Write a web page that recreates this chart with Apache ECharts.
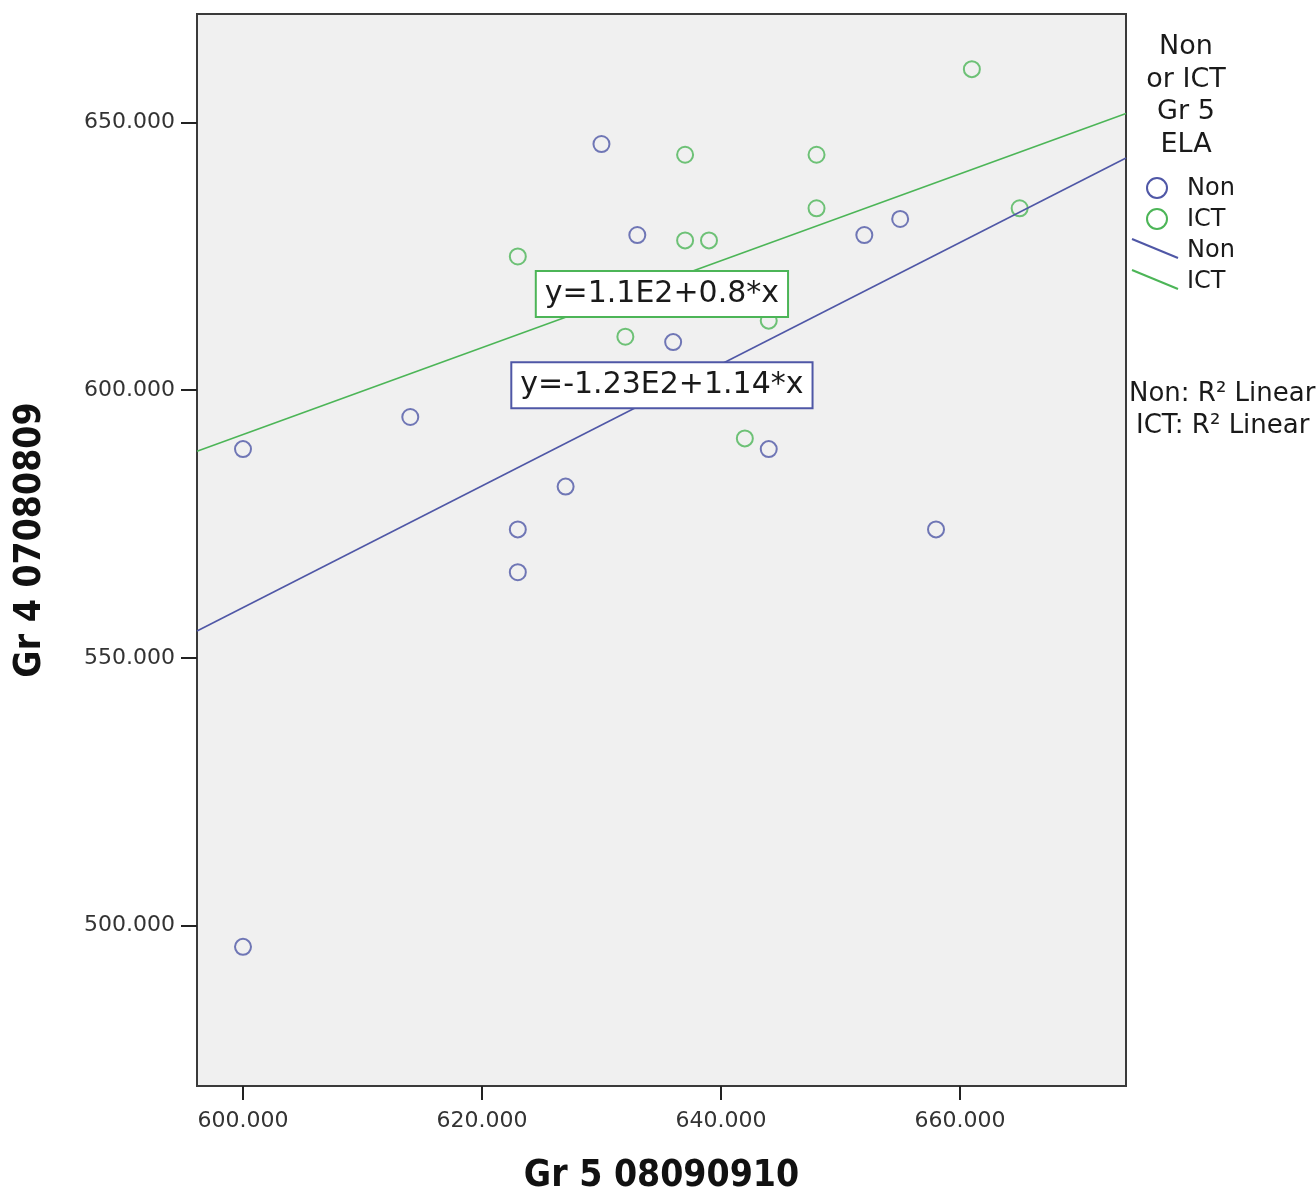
<!DOCTYPE html>
<html>
<head>
<meta charset="utf-8">
<script src="https://cdn.jsdelivr.net/npm/echarts@6/dist/echarts.min.js"></script>
<style>
html,body{margin:0;padding:0;background:#fff;}
#chart{width:1316px;height:1200px;}
</style>
</head>
<body>
<div id="chart"></div>
<script>
// ---- data ----
const nonX = [600, 600, 614, 623, 623, 627, 630, 633, 636, 644, 652, 655, 658];
const nonY = [589, 496, 595, 574, 566, 582, 646, 629, 609, 589, 629, 632, 574];
const ictX = [623, 632, 637, 637, 639, 642, 644, 648, 648, 661, 665];
const ictY = [625, 610, 644, 628, 628, 591, 613, 644, 634, 660, 634];
// fit lines (end points at the plot edges)
const nonFitX = [596.15, 673.9];
const nonFitY = [555.0, 643.4];
const ictFitX = [596.15, 673.9];
const ictFitY = [588.6, 651.7];
const xTickValues = [600, 620, 640, 660];
const yTickValues = [500, 550, 600, 650];
const nonEquation = 'y=-1.23E2+1.14*x';
const ictEquation = 'y=1.1E2+0.8*x';
const legendTitle = 'Non\nor ICT\nGr 5\nELA';
const groupNames = ['Non', 'ICT'];
const r2Texts = ['Non: R\u00B2 Linear', 'ICT: R\u00B2 Linear'];
const xTitle = 'Gr 5 08090910';
const yTitle = 'Gr 4 07080809';

const BLUE = '#4f57a6';
const GREEN = '#4cb557';
const FONT = "'DejaVu Sans', 'Noto Sans', sans-serif";
const TITLEFONT = "'DejaVu Sans Condensed', 'DejaVu Sans', sans-serif";

const zip = (a, b) => a.map((v, i) => [v, b[i]]);
const fmt = (list) => (v) => list.some(t => Math.abs(t - v) < 1e-6) ? v.toFixed(3) : '';

const chart = echarts.init(document.getElementById('chart'), null, {renderer: 'canvas'});
chart.setOption({
  animation: false,
  backgroundColor: '#ffffff',
  grid: {
    left: 197, top: 14, width: 929, height: 1076,
    show: true, backgroundColor: '#f0f0f0', borderColor: '#3a3a3a', borderWidth: 2
  },
  xAxis: {
    type: 'value', min: 596.15, max: 673.9, splitNumber: 4,
    name: xTitle, nameLocation: 'middle', nameGap: 72,
    nameTextStyle: {fontFamily: TITLEFONT, fontWeight: 'bold', fontSize: 37, color: '#111'},
    axisLine: {show: true, onZero: false, lineStyle: {color: '#3a3a3a', width: 2}},
    axisTick: {show: true, length: 14, lineStyle: {color: '#222', width: 2}},
    axisLabel: {show: true, margin: 24, showMinLabel: false, showMaxLabel: false,
      formatter: fmt(xTickValues), fontFamily: FONT, fontSize: 22, color: '#333'},
    splitLine: {show: false}
  },
  yAxis: {
    type: 'value', min: 470, max: 670.3, splitNumber: 4,
    name: yTitle, nameLocation: 'middle', nameGap: 148,
    nameTextStyle: {fontFamily: TITLEFONT, fontWeight: 'bold', fontSize: 37, color: '#111',
      padding: [0, 0, 0, 20]},
    axisLine: {show: true, onZero: false, lineStyle: {color: '#3a3a3a', width: 2}},
    axisTick: {show: true, length: 16, lineStyle: {color: '#222', width: 2}},
    axisLabel: {show: true, margin: 22, showMinLabel: false, showMaxLabel: false,
      formatter: fmt(yTickValues), fontFamily: FONT, fontSize: 22, color: '#333'},
    splitLine: {show: false}
  },
  series: [
    {
      name: 'Non fit', type: 'line', data: zip(nonFitX, nonFitY), symbol: 'none',
      lineStyle: {color: BLUE, width: 1.6}, silent: true, clip: true, z: 3,
      markPoint: {
        symbol: 'rect', symbolSize: 1, itemStyle: {color: 'rgba(0,0,0,0)'},
        data: [{coord: [635.06, 600.93], value: nonEquation}],
        label: {show: true, position: 'inside', formatter: nonEquation,
          fontFamily: FONT, fontSize: 30, color: '#1a1a1a',
          backgroundColor: '#ffffff', borderColor: BLUE, borderWidth: 2,
          padding: [8, 8, 6, 8]}
      }
    },
    {
      name: 'ICT fit', type: 'line', data: zip(ictFitX, ictFitY), symbol: 'none',
      lineStyle: {color: GREEN, width: 1.6}, silent: true, clip: true, z: 3,
      markPoint: {
        symbol: 'rect', symbolSize: 1, itemStyle: {color: 'rgba(0,0,0,0)'},
        data: [{coord: [635.06, 617.96], value: ictEquation}],
        label: {show: true, position: 'inside', formatter: ictEquation,
          fontFamily: FONT, fontSize: 30, color: '#1a1a1a',
          backgroundColor: '#ffffff', borderColor: GREEN, borderWidth: 2,
          padding: [8, 8, 6, 8]}
      }
    },
    {
      name: groupNames[0], type: 'scatter', data: zip(nonX, nonY), symbol: 'circle', symbolSize: 16,
      itemStyle: {color: 'rgba(0,0,0,0)', borderColor: BLUE, borderWidth: 2}, z: 2
    },
    {
      name: groupNames[1], type: 'scatter', data: zip(ictX, ictY), symbol: 'circle', symbolSize: 16,
      itemStyle: {color: 'rgba(0,0,0,0)', borderColor: GREEN, borderWidth: 2}, z: 2
    }
  ],
  graphic: [
    {type: 'text', style: {text: legendTitle, x: 1186, y: 31, align: 'center', verticalAlign: 'top',
      lineHeight: 32.5, font: '27px ' + FONT, fill: '#1a1a1a'}},
    {type: 'circle', shape: {cx: 1157, cy: 188, r: 10}, style: {fill: 'none', stroke: BLUE, lineWidth: 2}},
    {type: 'text', style: {text: groupNames[0], x: 1187, y: 189, verticalAlign: 'middle', font: '24px ' + FONT, fill: '#1a1a1a'}},
    {type: 'circle', shape: {cx: 1157, cy: 219, r: 10}, style: {fill: 'none', stroke: GREEN, lineWidth: 2}},
    {type: 'text', style: {text: groupNames[1], x: 1187, y: 220, verticalAlign: 'middle', font: '24px ' + FONT, fill: '#1a1a1a'}},
    {type: 'line', shape: {x1: 1132, y1: 239, x2: 1178, y2: 258}, style: {stroke: BLUE, lineWidth: 2}},
    {type: 'text', style: {text: groupNames[0], x: 1187, y: 251, verticalAlign: 'middle', font: '24px ' + FONT, fill: '#1a1a1a'}},
    {type: 'line', shape: {x1: 1132, y1: 270, x2: 1178, y2: 289}, style: {stroke: GREEN, lineWidth: 2}},
    {type: 'text', style: {text: groupNames[1], x: 1187, y: 282, verticalAlign: 'middle', font: '24px ' + FONT, fill: '#1a1a1a'}},
    {type: 'text', style: {text: r2Texts[0], x: 1129, y: 394, verticalAlign: 'middle', font: '26px ' + FONT, fill: '#1a1a1a'}},
    {type: 'text', style: {text: r2Texts[1], x: 1136, y: 426, verticalAlign: 'middle', font: '26px ' + FONT, fill: '#1a1a1a'}}
  ]
});
</script>
</body>
</html>
